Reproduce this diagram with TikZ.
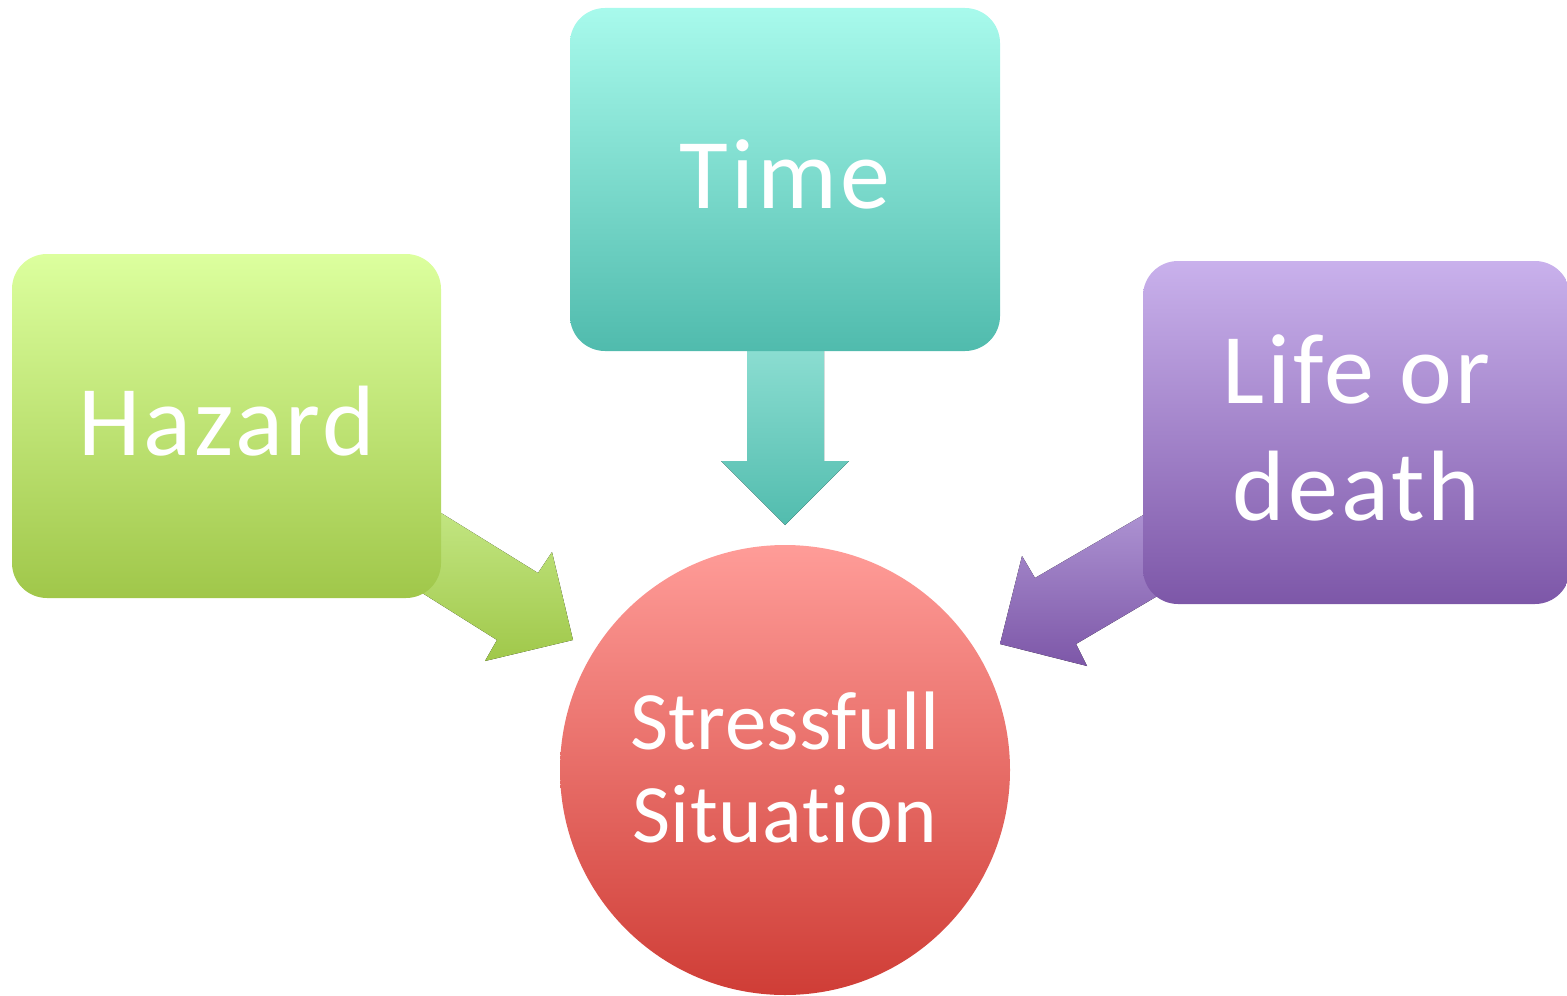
\documentclass[tikz,border=0pt]{standalone}
\usepackage{fontspec}
\setmainfont{Carlito}[Ligatures={NoCommon,NoContextual,NoRare},LetterSpace=3]
\newfontfamily\hubfont{Carlito}[Ligatures={NoCommon,NoContextual,NoRare},LetterSpace=0.5]
\begin{document}
\begin{tikzpicture}[x=0.5pt,y=-0.5pt,
  box/.style={rectangle,rounded corners=17.5pt,inner sep=0pt,text=white,align=center,
    text depth=5pt,font=\fontsize{50}{58.5}\selectfont},
  hub/.style={circle,inner sep=0pt,minimum size=225pt,text=white,align=center,
    text depth=3pt,font=\hubfont\fontsize{41.5}{46.5}\selectfont}]
\useasboundingbox (0,0) rectangle (1567,995);
\clip (0,0) rectangle (1567,995);

% block arrows, drawn first so the boxes cover their tails
\fill[top color={rgb,255:red,142;green,223;blue,211}, bottom color={rgb,255:red,82;green,188;blue,174}]
  (747,340) -- (747,461) -- (721,461) -- (785,525) -- (849,461) -- (824,461) -- (824,340) -- cycle;
\fill[top color={rgb,255:red,202;green,236;blue,142}, bottom color={rgb,255:red,160;green,200;blue,74}]
  (383,477) -- (538,573) -- (552,552) -- (573,640) -- (485,661) -- (497,640) -- (365,557) -- cycle;
\fill[top color={rgb,255:red,182;green,158;blue,218}, bottom color={rgb,255:red,125;green,87;blue,168}]
  (1200,482) -- (1035,578) -- (1022,556) -- (1000,644) -- (1087,666) -- (1076,644) -- (1210,565) -- cycle;

% boxes
\node[box, minimum width=214.5pt, minimum height=172pt,
      top color={rgb,255:red,220;green,255;blue,158}, bottom color={rgb,255:red,160;green,199;blue,74}]
  (hazard) at (226.5,426) {Hazard};
\node[box, minimum width=215pt, minimum height=171.5pt,
      top color={rgb,255:red,168;green,250;blue,236}, bottom color={rgb,255:red,80;green,187;blue,173}]
  (time) at (785,179.5) {Time};
\node[box, minimum width=213.5pt, minimum height=171.5pt,
      top color={rgb,255:red,201;green,177;blue,236}, bottom color={rgb,255:red,125;green,87;blue,168}]
  (life) at (1356.5,432.5) {Life or\\death};

% central circle
\node[hub, top color={rgb,255:red,255;green,156;blue,152}, bottom color={rgb,255:red,207;green,61;blue,54}]
  (stress) at (785,770) {Stressfull\\Situation};
\end{tikzpicture}
\end{document}
